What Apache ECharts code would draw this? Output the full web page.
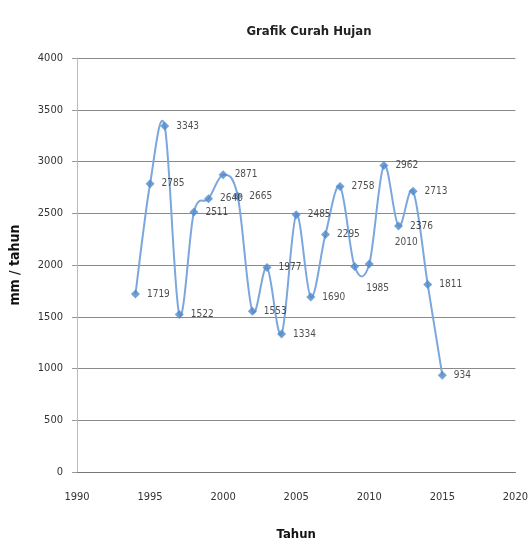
<!DOCTYPE html>
<html>
<head>
<meta charset="utf-8">
<script src="https://cdn.jsdelivr.net/npm/echarts@6/dist/echarts.min.js"></script>
<style>
  html, body { margin: 0; padding: 0; background: #fff; }
  #chart { width: 531px; height: 546px; }
</style>
</head>
<body>
<div id="chart"></div>
<script>
// Annual rainfall (mm / year)
const years = [1994, 1995, 1996, 1997, 1998, 1999, 2000, 2001, 2002, 2003, 2004,
               2005, 2006, 2007, 2008, 2009, 2010, 2011, 2012, 2013, 2014, 2015];
const rainfall = [1719, 2785, 3343, 1522, 2511, 2640, 2871, 2665, 1553, 1977, 1334,
                  2485, 1690, 2295, 2758, 1985, 2010, 2962, 2376, 2713, 1811, 934];

// Label nudges for crowded points (pixels)
const labelOffsets = { 2009: [0, 22], 2010: [14, -22] };

const font = "'DejaVu Sans Condensed', 'Liberation Sans Narrow', sans-serif";

const points = years.map((y, i) => [y, rainfall[i]]);

const markerData = points.map((p, i) => {
  const item = { value: p };
  if (labelOffsets[years[i]]) item.label = { offset: labelOffsets[years[i]] };
  return item;
});

// Smoothed curve through every data point (cardinal spline as cubic Béziers),
// positioned with the chart's own coordinate system.
function renderCurve(params, api) {
  if (params.dataIndex !== 0) return null;
  const px = points.map(p => api.coord(p));
  const n = px.length;
  const t = 1 / 6;
  let d = 'M' + px[0][0] + ' ' + px[0][1];
  for (let i = 0; i < n - 1; i++) {
    const p0 = px[Math.max(i - 1, 0)];
    const p1 = px[i];
    const p2 = px[i + 1];
    const p3 = px[Math.min(i + 2, n - 1)];
    const c1x = p1[0] + (p2[0] - p0[0]) * t;
    const c1y = p1[1] + (p2[1] - p0[1]) * t;
    const c2x = p2[0] - (p3[0] - p1[0]) * t;
    const c2y = p2[1] - (p3[1] - p1[1]) * t;
    d += ' C' + c1x + ' ' + c1y + ' ' + c2x + ' ' + c2y + ' ' + p2[0] + ' ' + p2[1];
  }
  return {
    type: 'path',
    shape: { pathData: d },
    style: { fill: 'none', stroke: '#7ba7dc', lineWidth: 2 }
  };
}

const chart = echarts.init(document.getElementById('chart'), null, { renderer: 'canvas' });
chart.setOption({
  backgroundColor: '#ffffff',
  animation: false,
  title: {
    text: 'Grafik Curah Hujan',
    left: 304, top: 20, textAlign: 'center',
    textStyle: { fontFamily: font, fontSize: 13, fontWeight: 'bold', color: '#222' }
  },
  grid: { left: 75, right: 15, top: 58, bottom: 73 },
  xAxis: {
    type: 'value', min: 1990, max: 2020, interval: 5,
    name: 'Tahun', nameLocation: 'middle', nameGap: 56,
    nameTextStyle: { fontFamily: font, fontSize: 13, fontWeight: 'bold', color: '#111' },
    axisLine: { show: true, lineStyle: { color: '#777', width: 1 } },
    axisTick: { show: false },
    splitLine: { show: false },
    axisLabel: { fontFamily: font, fontSize: 11, color: '#333', margin: 20, formatter: v => String(v) }
  },
  yAxis: {
    type: 'value', min: 0, max: 4000, interval: 500,
    name: 'mm / tahun', nameLocation: 'middle', nameGap: 55, nameRotate: 90,
    nameTextStyle: { fontFamily: font, fontSize: 14, fontWeight: 'bold', color: '#111' },
    axisLine: { show: true, lineStyle: { color: '#bbb', width: 1 } },
    axisTick: { show: true, length: 5, lineStyle: { color: '#999' } },
    splitLine: { show: true, lineStyle: { color: '#8a8a8a', width: 1 } },
    axisLabel: { fontFamily: font, fontSize: 11, color: '#333', margin: 14, formatter: v => String(v) }
  },
  series: [
    {
      type: 'custom',
      data: points,
      renderItem: renderCurve,
      clip: true,
      z: 2
    },
    {
      type: 'scatter',
      data: markerData,
      symbol: 'diamond',
      symbolSize: 9,
      itemStyle: { color: '#5089cb' },
      z: 3,
      label: {
        show: true, position: 'right', distance: 7,
        fontFamily: font, fontSize: 10, color: '#222',
        formatter: p => String(p.value[1])
      }
    }
  ]
});
</script>
</body>
</html>
